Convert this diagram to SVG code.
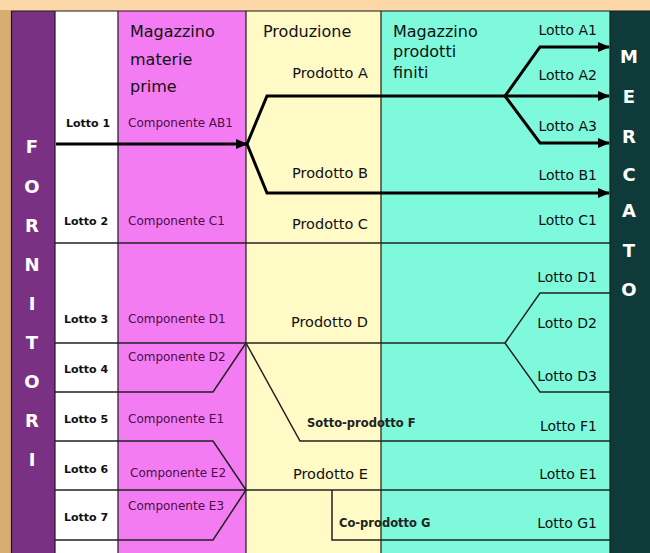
<svg xmlns="http://www.w3.org/2000/svg" width="650" height="553" viewBox="0 0 650 553">
<defs>
<marker id="ah" viewBox="0 0 12 10" refX="11" refY="5" markerWidth="12" markerHeight="10" markerUnits="userSpaceOnUse" orient="auto">
<path d="M0,0 L12,5 L0,10 Z" fill="#000"/>
</marker>
<style>
text{font-family:"DejaVu Sans","Liberation Sans",sans-serif;}
.hdr{font-size:16px;fill:#111;}
.lot{font-size:11px;font-weight:bold;fill:#111;}
.cmp{font-size:12px;fill:#4a0c4a;}
.prd{font-size:14.5px;fill:#111;text-anchor:end;}
.sub{font-size:11.5px;font-weight:bold;fill:#222;}
.out{font-size:14px;fill:#111;text-anchor:end;}
.big{font-size:18px;font-weight:bold;fill:#fff;text-anchor:middle;}
.thick{fill:none;stroke:#000;stroke-width:3;stroke-linejoin:miter;}
.thin{fill:none;stroke:#222;stroke-width:1.5;}
.grid{fill:none;stroke:#1a1a1a;stroke-width:1.2;}
</style>
</defs>

<!-- background frame -->
<g id="background">
<rect x="0" y="0" width="650" height="553" fill="#f6d3a2"/>
<rect x="0" y="0" width="650" height="10" fill="#fcd7a8"/>
<rect x="0" y="10" width="11" height="543" fill="#d8ad74"/>
<rect x="12" y="11" width="43" height="542" fill="#7a3184"/>
<rect x="55" y="11" width="63" height="542" fill="#ffffff"/>
<rect x="118" y="11" width="128" height="542" fill="#f47cf3"/>
<rect x="246" y="11" width="135" height="542" fill="#fffac6"/>
<rect x="381" y="11" width="229" height="542" fill="#7ef9dc"/>
<rect x="610" y="11" width="40" height="542" fill="#0e3b3a"/>
<line class="grid" x1="11" y1="11" x2="650" y2="11" stroke-width="2"/>
<line class="grid" x1="11.5" y1="11" x2="11.5" y2="553" stroke-width="2"/>
<line class="grid" x1="55" y1="11" x2="55" y2="553"/>
<line class="grid" x1="118" y1="11" x2="118" y2="553"/>
<line class="grid" x1="246" y1="11" x2="246" y2="553"/>
<line class="grid" x1="381" y1="11" x2="381" y2="553"/>
<line class="grid" x1="610" y1="11" x2="610" y2="553"/>
</g>

<!-- side labels -->
<g id="fornitori">
<text class="big" x="32" y="153">F</text>
<text class="big" x="32" y="193">O</text>
<text class="big" x="32" y="232">R</text>
<text class="big" x="32" y="271">N</text>
<text class="big" x="32" y="310">I</text>
<text class="big" x="32" y="349">T</text>
<text class="big" x="32" y="388">O</text>
<text class="big" x="32" y="427">R</text>
<text class="big" x="32" y="466">I</text>
</g>
<g id="mercato">
<text class="big" x="629" y="63">M</text>
<text class="big" x="629" y="103">E</text>
<text class="big" x="629" y="143">R</text>
<text class="big" x="629" y="181">C</text>
<text class="big" x="629" y="217">A</text>
<text class="big" x="629" y="257">T</text>
<text class="big" x="629" y="296">O</text>
</g>

<!-- headers -->
<g id="hdr-magazzino-materie">
<text class="hdr" x="130" y="37">Magazzino</text>
<text class="hdr" x="130" y="65">materie</text>
<text class="hdr" x="130" y="92">prime</text>
</g>
<g id="hdr-produzione">
<text class="hdr" x="263" y="37">Produzione</text>
</g>
<g id="hdr-magazzino-prodotti">
<text class="hdr" x="393" y="37">Magazzino</text>
<text class="hdr" x="393" y="57">prodotti</text>
<text class="hdr" x="393" y="78">finiti</text>
</g>

<!-- supplier lots -->
<g id="lotto1"><text class="lot" x="66" y="127">Lotto 1</text></g>
<g id="lotto2"><text class="lot" x="64" y="225">Lotto 2</text></g>
<g id="lotto3"><text class="lot" x="64" y="323">Lotto 3</text></g>
<g id="lotto4"><text class="lot" x="64" y="373">Lotto 4</text></g>
<g id="lotto5"><text class="lot" x="64" y="423">Lotto 5</text></g>
<g id="lotto6"><text class="lot" x="64" y="473">Lotto 6</text></g>
<g id="lotto7"><text class="lot" x="64" y="521">Lotto 7</text></g>

<!-- components -->
<g id="comp-ab1"><text class="cmp" x="128" y="127">Componente AB1</text></g>
<g id="comp-c1"><text class="cmp" x="128" y="225">Componente C1</text></g>
<g id="comp-d1"><text class="cmp" x="128" y="323">Componente D1</text></g>
<g id="comp-d2"><text class="cmp" x="128" y="361">Componente D2</text></g>
<g id="comp-e1"><text class="cmp" x="128" y="423">Componente E1</text></g>
<g id="comp-e2"><text class="cmp" x="130" y="477">Componente E2</text></g>
<g id="comp-e3"><text class="cmp" x="128" y="510">Componente E3</text></g>

<!-- products -->
<g id="prod-a"><text class="prd" x="368" y="78">Prodotto A</text></g>
<g id="prod-b"><text class="prd" x="368" y="178">Prodotto B</text></g>
<g id="prod-c"><text class="prd" x="368" y="229">Prodotto C</text></g>
<g id="prod-d"><text class="prd" x="368" y="327">Prodotto D</text></g>
<g id="prod-f"><text class="sub" x="307" y="427">Sotto-prodotto F</text></g>
<g id="prod-e"><text class="prd" x="368" y="479">Prodotto E</text></g>
<g id="prod-g"><text class="sub" x="339" y="527" font-size="11px">Co-prodotto G</text></g>

<!-- finished lots -->
<g id="out-a1"><text class="out" x="597" y="35">Lotto A1</text></g>
<g id="out-a2"><text class="out" x="597" y="80">Lotto A2</text></g>
<g id="out-a3"><text class="out" x="597" y="131">Lotto A3</text></g>
<g id="out-b1"><text class="out" x="597" y="180">Lotto B1</text></g>
<g id="out-c1"><text class="out" x="597" y="225">Lotto C1</text></g>
<g id="out-d1"><text class="out" x="597" y="282">Lotto D1</text></g>
<g id="out-d2"><text class="out" x="597" y="328">Lotto D2</text></g>
<g id="out-d3"><text class="out" x="597" y="381">Lotto D3</text></g>
<g id="out-f1"><text class="out" x="597" y="431">Lotto F1</text></g>
<g id="out-e1"><text class="out" x="597" y="479">Lotto E1</text></g>
<g id="out-g1"><text class="out" x="597" y="528">Lotto G1</text></g>

<!-- connectors -->
<g id="connectors">
<path class="thick" d="M56,144 L247,144" marker-end="url(#ah)"/>
<path class="thick" d="M247,144 L267,96 L505,96"/>
<path class="thick" d="M505,96 L540,47 L609,47" marker-end="url(#ah)"/>
<path class="thick" d="M505,96 L609,96" marker-end="url(#ah)"/>
<path class="thick" d="M505,96 L540,143 L609,143" marker-end="url(#ah)"/>
<path class="thick" d="M247,144 L267,193 L609,193" marker-end="url(#ah)"/>
<path class="thin" d="M55,243 L610,243" stroke="#4f4f40" stroke-width="2"/>
<path class="thin" d="M55,343 L505,343"/>
<path class="thin" d="M505,343 L540,293 L610,293"/>
<path class="thin" d="M505,343 L540,392 L610,392"/>
<path class="thin" d="M55,392 L213,392 L246,343"/>
<path class="thin" d="M246,343 L300,441 L610,441"/>
<path class="thin" d="M55,441 L213,441 L246,490"/>
<path class="thin" d="M55,490 L610,490"/>
<path class="thin" d="M246,490 L213,540 L55,540"/>
<path class="thin" d="M332,490 L332,540 L610,540"/>
</g>
</svg>
